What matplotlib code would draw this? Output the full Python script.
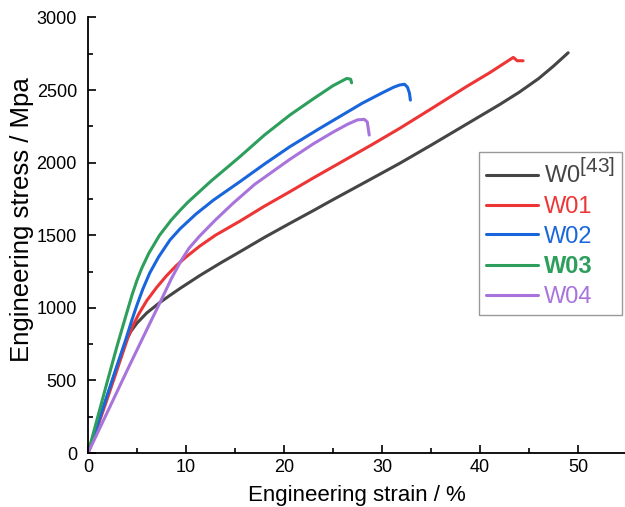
import matplotlib
matplotlib.use("Agg")
import matplotlib.pyplot as plt
import matplotlib._mathtext as mathtext_impl
from matplotlib.ticker import MultipleLocator

plt.rcParams['font.family'] = ['Liberation Sans', 'DejaVu Sans']
plt.rcParams['mathtext.fontset'] = 'custom'
plt.rcParams['mathtext.rm'] = 'Liberation Sans'
# larger superscripts for the citation tag
mathtext_impl.SHRINK_FACTOR = 0.88

# Engineering strain (%) and stress (MPa) for each specimen
w0_strain = [0, 1, 2, 3, 3.6, 4.0, 4.4, 5.0, 6.0, 7.2, 8.3, 9.4, 11.4, 13.5, 15.5, 18, 20.6, 23, 25, 28,
             31.8, 35, 38, 40, 42, 44, 46, 47.5, 49]
w0_stress = [0, 200, 400, 600, 720, 790, 840, 895, 965, 1030, 1083, 1134, 1222, 1308, 1386, 1485, 1582, 1670,
             1745, 1855, 1995, 2120, 2240, 2320, 2400, 2485, 2580, 2665, 2757]

w01_strain = [0, 1, 2, 3, 3.6, 4.1, 4.6, 5.2, 6, 7, 8, 9, 10, 11.4, 13, 15.5, 18, 20.6, 23, 26, 29, 31.8,
              35, 38.6, 41, 43.4, 43.8, 44.4]
w01_stress = [0, 185, 380, 580, 700, 800, 880, 960, 1050, 1140, 1220, 1290, 1350, 1425, 1500, 1597, 1700,
              1800, 1895, 2010, 2125, 2236, 2370, 2523, 2620, 2725, 2702, 2702]

w02_strain = [0, 1, 2, 3, 3.8, 4.5, 5.0, 5.6, 6.3, 7.2, 8.36, 9.4, 11, 12.8, 15.5, 18, 20.6, 23.5, 26, 28,
              30, 31.2, 31.8, 32.3, 32.6, 32.8, 32.9]
w02_stress = [0, 200, 405, 610, 770, 920, 1020, 1130, 1240, 1350, 1467, 1545, 1645, 1742, 1869, 1990,
              2110, 2230, 2330, 2410, 2480, 2520, 2535, 2540, 2520, 2480, 2431]

w03_strain = [0, 1, 2, 3, 3.8, 4.5, 5.0, 5.5, 6.2, 7.3, 8.5, 9.4, 10.2, 12.5, 15.5, 18, 20.6, 23, 25,
              26.4, 26.8, 26.9]
w03_stress = [0, 250, 500, 745, 930, 1090, 1190, 1275, 1375, 1500, 1605, 1672, 1728, 1870, 2041, 2190,
              2328, 2440, 2530, 2580, 2575, 2550]

w04_strain = [0, 2, 4, 6, 7.3, 8.5, 9.5, 10.3, 11.4, 13, 14.8, 17, 20.6, 23, 25, 26.5, 27.5, 28.2, 28.5,
              28.7]
w04_stress = [0, 285, 570, 850, 1030, 1200, 1325, 1410, 1495, 1605, 1720, 1850, 2023, 2130, 2210, 2265,
              2295, 2298, 2280, 2190]

labels = [r'W0$^{\mathregular{[43]}}$', 'W01', 'W02', 'W03', 'W04']
colors = ['#454545', '#ee3535', '#1966dc', '#2d9e5c', '#a874dc']

fig = plt.figure(figsize=(6.25, 5.07), dpi=100)
ax = fig.add_axes([0.1408, 0.1065, 0.8592, 0.859])

series = [(w0_strain, w0_stress), (w01_strain, w01_stress), (w02_strain, w02_stress),
          (w03_strain, w03_stress), (w04_strain, w04_stress)]
for (x, y), lab, c in zip(series, labels, colors):
    ax.plot(x, y, color=c, lw=2.2, label=lab, solid_capstyle='round', solid_joinstyle='round')

ax.set_xlim(0, 54.8)
ax.set_ylim(0, 3000)
ax.xaxis.set_major_locator(MultipleLocator(10))
ax.xaxis.set_minor_locator(MultipleLocator(5))
ax.yaxis.set_major_locator(MultipleLocator(500))
ax.yaxis.set_minor_locator(MultipleLocator(250))
ax.tick_params(which='both', direction='in', width=1.2, labelsize=13, colors='black')
ax.tick_params(axis='y', which='major', length=6, pad=8)
ax.tick_params(axis='x', which='major', length=6, pad=4)
ax.tick_params(which='minor', length=3.5)
for s in ['top', 'right']:
    ax.spines[s].set_visible(False)
for s in ['left', 'bottom']:
    ax.spines[s].set_linewidth(1.3)

ax.set_xlabel('Engineering strain / %', fontsize=16, labelpad=7)
ax.set_ylabel('Engineering stress / Mpa', fontsize=18.5)
ax.yaxis.set_label_coords(-0.100, 0.535)

leg = ax.legend(loc='upper left', bbox_to_anchor=(0.728, 0.691), borderaxespad=0,
                fontsize=17, handlelength=2.2, handletextpad=0.25, labelspacing=0.33,
                fancybox=False, frameon=True, borderpad=0.3)
leg.get_frame().set_edgecolor('#808080')
leg.get_frame().set_linewidth(1.0)
for txt, c in zip(leg.get_texts(), colors):
    txt.set_color(c)
leg.get_texts()[3].set_fontweight('bold')

fig.savefig('out.png', dpi=100)
